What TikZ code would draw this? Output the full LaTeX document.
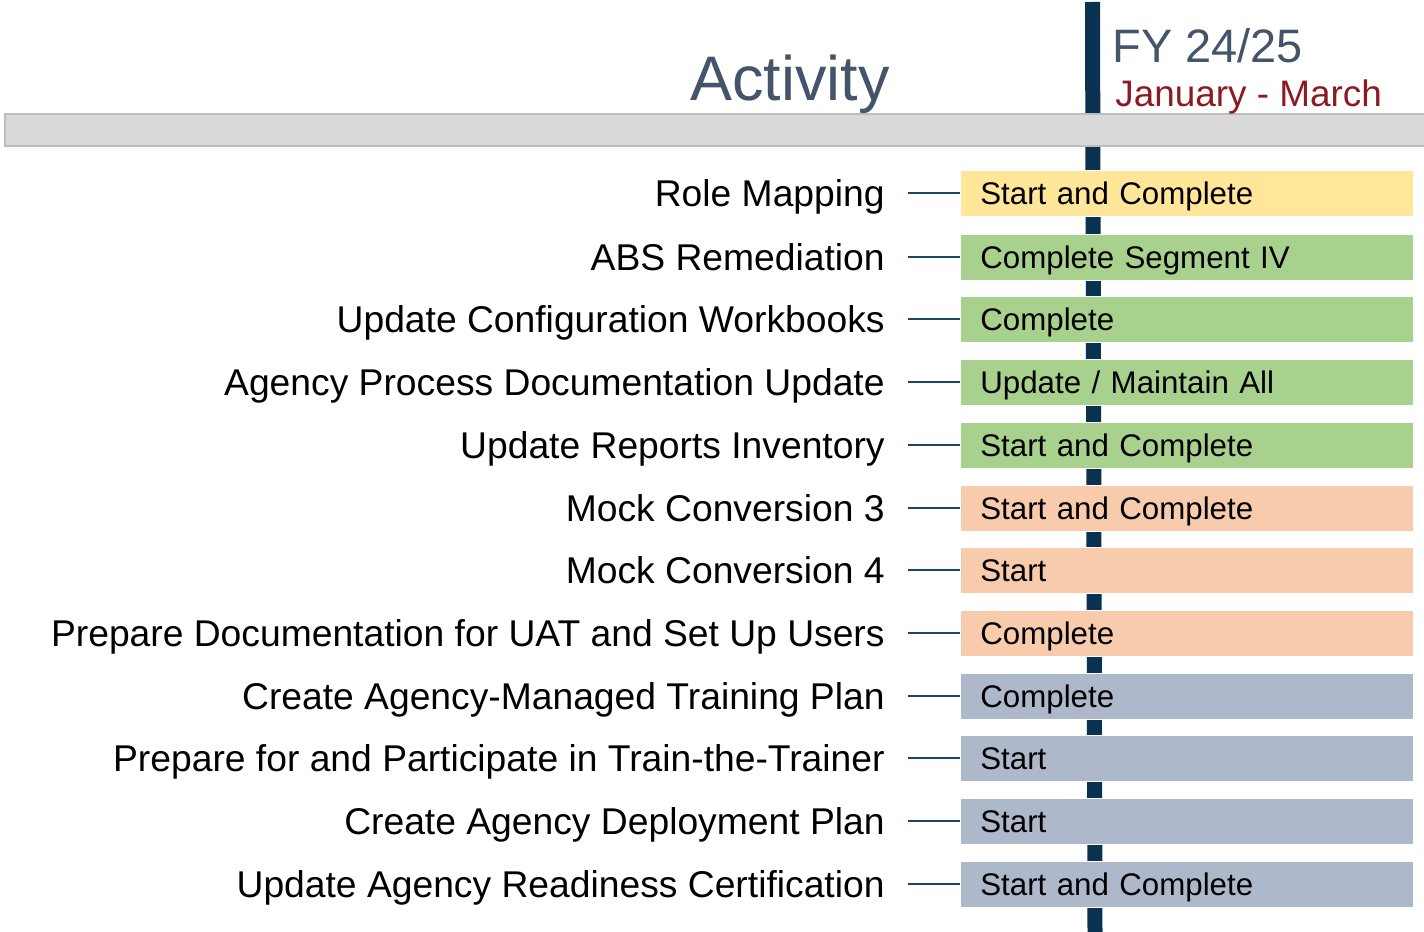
\documentclass[tikz,border=0pt]{standalone}
\usepackage{fontspec}
\setmainfont{Liberation Sans}
\usetikzlibrary{positioning}
\definecolor{navy}{HTML}{0B3150}
\definecolor{linkblue}{HTML}{1A4668}
\definecolor{slate}{HTML}{44546A}
\definecolor{maroon}{HTML}{8B1A22}
\definecolor{barfill}{HTML}{D9D9D9}
\definecolor{barline}{HTML}{BDBDBD}
\definecolor{yel}{HTML}{FFE699}
\definecolor{grn}{HTML}{A9D18E}
\definecolor{org}{HTML}{F8CBAD}
\definecolor{blu}{HTML}{ADB9CA}
\tikzset{
  task/.style={anchor=east, inner xsep=0.46cm, inner ysep=0pt,
    text height=15.2pt, text depth=0pt,
    font=\fontsize{21.2}{25}\selectfont},
  status/.style={anchor=west, draw=white, line width=0.4pt, inner xsep=0.4cm,
    inner ysep=0pt, text width=8.26cm, align=left, minimum height=0.92cm,
    text height=12.7pt, text depth=0pt,
    font=\fontsize{17.8}{22}\selectfont},
  link/.style={draw=linkblue, line width=1.1pt}
}
\begin{document}
\begin{tikzpicture}[x=0.02cm, y=-0.02cm]
\useasboundingbox (0,0) rectangle (1424,932);
% timeline
\coordinate (ttop) at (1092.5,2);
\coordinate (tbot) at (1095,932);
\draw[navy, line width=0.3cm] (ttop) -- (tbot);
\fill[barfill, draw=barline, line width=0.8pt] (5,114) rectangle (1430,146);
% headings
\node[anchor=base, text=slate, font=\fontsize{35.8}{40}\selectfont, inner sep=0pt] (act) at (790,101) {Activity};
\node[anchor=base west, text=slate, font=\fontsize{26.7}{30}\selectfont, inner sep=0pt] (fy) at (1112,63) {FY 24/25};
\node[anchor=base west, text=maroon, font=\fontsize{21}{25}\selectfont, inner sep=0pt] (qtr) at (1115,107) {January - March};
% activities
\node[task] (t1) at (908,193) {Role Mapping};
\node[task] (t2) at (908,257) {ABS Remediation};
\node[task] (t3) at (908,319) {Update Configuration Workbooks};
\node[task] (t4) at (908,382) {Agency Process Documentation Update};
\node[task] (t5) at (908,445) {Update Reports Inventory};
\node[task] (t6) at (908,508) {Mock Conversion 3};
\node[task] (t7) at (908,570) {Mock Conversion 4};
\node[task] (t8) at (908,633) {Prepare Documentation for UAT and Set Up Users};
\node[task] (t9) at (908,696) {Create Agency-Managed Training Plan};
\node[task] (t10) at (908,758) {Prepare for and Participate in Train-the-Trainer};
\node[task] (t11) at (908,821) {Create Agency Deployment Plan};
\node[task] (t12) at (908,884) {Update Agency Readiness Certification};
% status boxes
\node[status, fill=yel] (s1) at (960,193) {Start and Complete};
\node[status, fill=grn] (s2) at (960,257) {Complete Segment IV};
\node[status, fill=grn] (s3) at (960,319) {Complete};
\node[status, fill=grn] (s4) at (960,382) {Update / Maintain All};
\node[status, fill=grn] (s5) at (960,445) {Start and Complete};
\node[status, fill=org] (s6) at (960,508) {Start and Complete};
\node[status, fill=org] (s7) at (960,570) {Start};
\node[status, fill=org] (s8) at (960,633) {Complete};
\node[status, fill=blu] (s9) at (960,696) {Complete};
\node[status, fill=blu] (s10) at (960,758) {Start};
\node[status, fill=blu] (s11) at (960,821) {Start};
\node[status, fill=blu] (s12) at (960,884) {Start and Complete};
% connectors
\draw[link] (t1.east) -- (s1.west);
\draw[link] (t2.east) -- (s2.west);
\draw[link] (t3.east) -- (s3.west);
\draw[link] (t4.east) -- (s4.west);
\draw[link] (t5.east) -- (s5.west);
\draw[link] (t6.east) -- (s6.west);
\draw[link] (t7.east) -- (s7.west);
\draw[link] (t8.east) -- (s8.west);
\draw[link] (t9.east) -- (s9.west);
\draw[link] (t10.east) -- (s10.west);
\draw[link] (t11.east) -- (s11.west);
\draw[link] (t12.east) -- (s12.west);
\end{tikzpicture}
\end{document}
